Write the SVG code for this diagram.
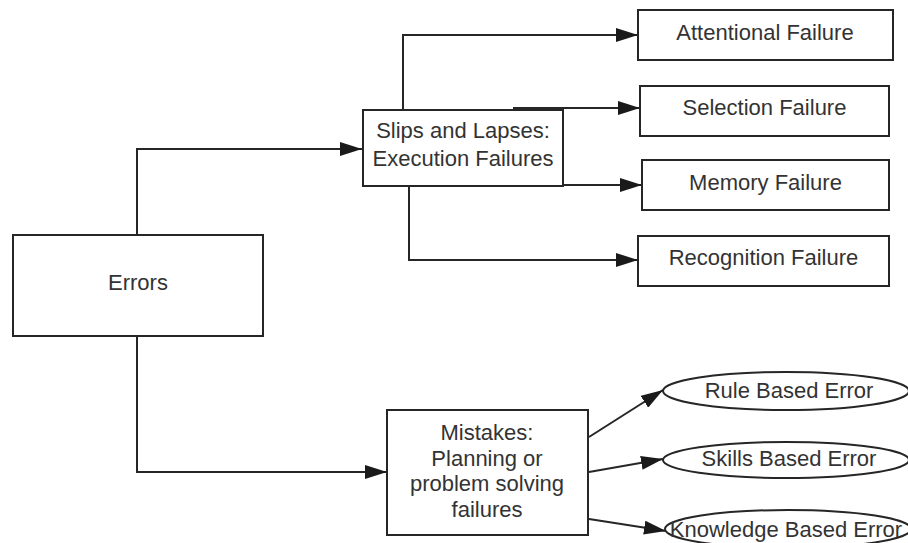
<svg xmlns="http://www.w3.org/2000/svg" width="908" height="543" viewBox="0 0 908 543">
  <style>
    .box { fill: #ffffff; stroke: #262626; stroke-width: 2; }
    .lbl { font-family: "Liberation Sans", Arial, sans-serif; font-size: 22px; fill: #333333; text-anchor: middle; }
    .wire { fill: none; stroke: #262626; stroke-width: 2; marker-end: url(#head); }
  </style>
  <defs>
    <marker id="head" markerUnits="userSpaceOnUse" markerWidth="23" markerHeight="14" refX="22" refY="7" orient="auto">
      <path d="M0,0 L22,7 L0,14 z" fill="#1a1a1a"/>
    </marker>
  </defs>
  <rect width="908" height="543" fill="#ffffff"/>

  <g id="connectors">
    <path class="wire" d="M137,235 V149 H362"/>
    <path class="wire" d="M137,336 V472 H387"/>
    <path class="wire" d="M403,110 V35 H638"/>
    <path class="wire" d="M513,108 H640"/>
    <path class="wire" d="M517,185 H642"/>
    <path class="wire" d="M409,186 V260 H638"/>
    <path class="wire" d="M589,437 L663,390"/>
    <path class="wire" d="M589,472 L663,459"/>
    <path class="wire" d="M589,519 L666,531"/>
  </g>

  <g id="errors">
    <rect class="box" x="13" y="235" width="250" height="101"/>
    <text class="lbl" x="138" y="290">Errors</text>
  </g>

  <g id="slips">
    <rect class="box" x="363" y="110" width="200" height="76"/>
    <text class="lbl" x="463" y="138">Slips and Lapses:</text>
    <text class="lbl" x="463" y="166">Execution Failures</text>
  </g>

  <g id="attentional">
    <rect class="box" x="638" y="10" width="255" height="50"/>
    <text class="lbl" x="765" y="40">Attentional Failure</text>
  </g>

  <g id="selection">
    <rect class="box" x="640" y="86" width="249" height="50"/>
    <text class="lbl" x="764.5" y="115">Selection Failure</text>
  </g>

  <g id="memory">
    <rect class="box" x="642" y="160" width="247" height="50"/>
    <text class="lbl" x="765.5" y="190">Memory Failure</text>
  </g>

  <g id="recognition">
    <rect class="box" x="638" y="236" width="251" height="50"/>
    <text class="lbl" x="763.5" y="265">Recognition Failure</text>
  </g>

  <g id="mistakes">
    <rect class="box" x="387" y="410" width="201" height="125"/>
    <text class="lbl" x="487" y="440">Mistakes:</text>
    <text class="lbl" x="487" y="465.5">Planning or</text>
    <text class="lbl" x="487" y="491">problem solving</text>
    <text class="lbl" x="487" y="516.5">failures</text>
  </g>

  <g id="rule">
    <ellipse class="box" cx="786" cy="391" rx="123" ry="19"/>
    <text class="lbl" x="789" y="398">Rule Based Error</text>
  </g>

  <g id="skills">
    <ellipse class="box" cx="786" cy="460" rx="123" ry="18"/>
    <text class="lbl" x="789" y="466">Skills Based Error</text>
  </g>

  <g id="knowledge">
    <ellipse class="box" cx="788" cy="529" rx="123" ry="19"/>
    <text class="lbl" x="786" y="537">Knowledge Based Error</text>
  </g>
</svg>
